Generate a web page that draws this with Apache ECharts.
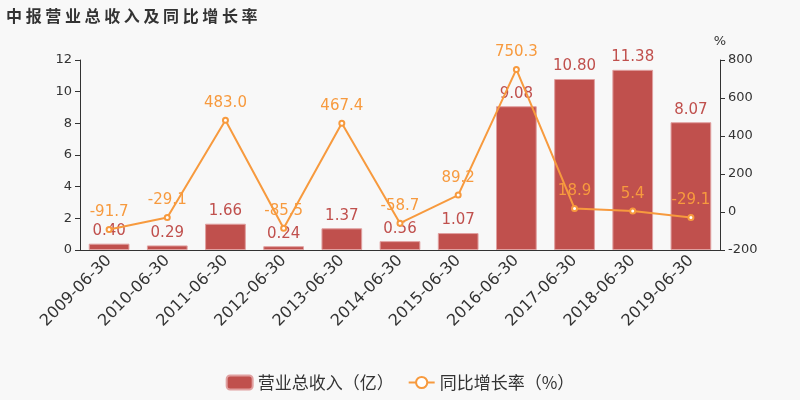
<!DOCTYPE html>
<html><head><meta charset="utf-8">
<script src="https://cdn.jsdelivr.net/npm/echarts@6/dist/echarts.min.js"></script>
<style>html,body{margin:0;padding:0;background:#f8f8f8;}#c{width:800px;height:400px;}</style>
</head><body><div id="c"></div>
<script>
var categories = ['2009-06-30','2010-06-30','2011-06-30','2012-06-30','2013-06-30','2014-06-30','2015-06-30','2016-06-30','2017-06-30','2018-06-30','2019-06-30'];
var revenue = [0.40,0.29,1.66,0.24,1.37,0.56,1.07,9.08,10.80,11.38,8.07];
var growth = [-91.7,-29.1,483.0,-85.5,467.4,-58.7,89.2,750.3,18.9,5.4,-29.1];
var leftTicks = [0,12,2];
var rightTicks = [-200,800,200];
var chart = echarts.init(document.getElementById('c'));
var font = '"DejaVu Sans", "Noto Sans CJK SC", sans-serif';
chart.setOption({
  backgroundColor:'#f8f8f8',
  animation:false,
  textStyle:{fontFamily:font},
  title:{text:'中 报 营 业 总 收 入 及 同 比 增 长 率',left:1,top:3,textStyle:{fontSize:16,fontWeight:'bold',color:'#333',fontFamily:'"Noto Sans CJK SC", sans-serif'}},
  legend:{bottom:4,left:'center',itemWidth:26,itemHeight:14,itemGap:14,textStyle:{fontSize:17,color:'#333',fontFamily:'"Noto Sans CJK SC", sans-serif'},
    data:[{name:'营业总收入（亿）'},{name:'同比增长率（%）'}]},
  grid:{left:80,right:80,top:60,bottom:150},
  xAxis:{type:'category',data:categories,
    axisLine:{lineStyle:{color:'#333'}},
    axisLabel:{rotate:45,fontSize:16,color:'#333',interval:0,margin:8}},
  yAxis:[
    {type:'value',min:leftTicks[0],max:leftTicks[1],interval:leftTicks[2],splitLine:{show:false},
     axisLine:{show:true,lineStyle:{color:'#333'}},axisTick:{show:true},axisLabel:{fontSize:13,color:'#333'}},
    {type:'value',name:'%',nameGap:12,nameTextStyle:{fontSize:13,color:'#333'},min:rightTicks[0],max:rightTicks[1],interval:rightTicks[2],splitLine:{show:false},
     axisLine:{show:true,lineStyle:{color:'#333'}},axisTick:{show:true},axisLabel:{fontSize:13,color:'#333'}}
  ],
  series:[
    {name:'营业总收入（亿）',type:'bar',data:revenue,barWidth:'70%',
     itemStyle:{color:'#c0504d',borderColor:'#e0a0a0',borderWidth:1},
     label:{show:true,position:'top',color:'#c0504d',fontSize:15,formatter:function(p){return p.value.toFixed(2);}}},
    {name:'同比增长率（%）',type:'line',yAxisIndex:1,data:growth,symbol:'emptyCircle',symbolSize:5,
     lineStyle:{color:'#f79a3e',width:2},itemStyle:{color:'#f79a3e'},
     label:{show:true,position:'top',distance:6,color:'#f79a3e',fontSize:15,formatter:function(p){return p.value.toFixed(1);}}}
  ]
});
</script></body></html>
